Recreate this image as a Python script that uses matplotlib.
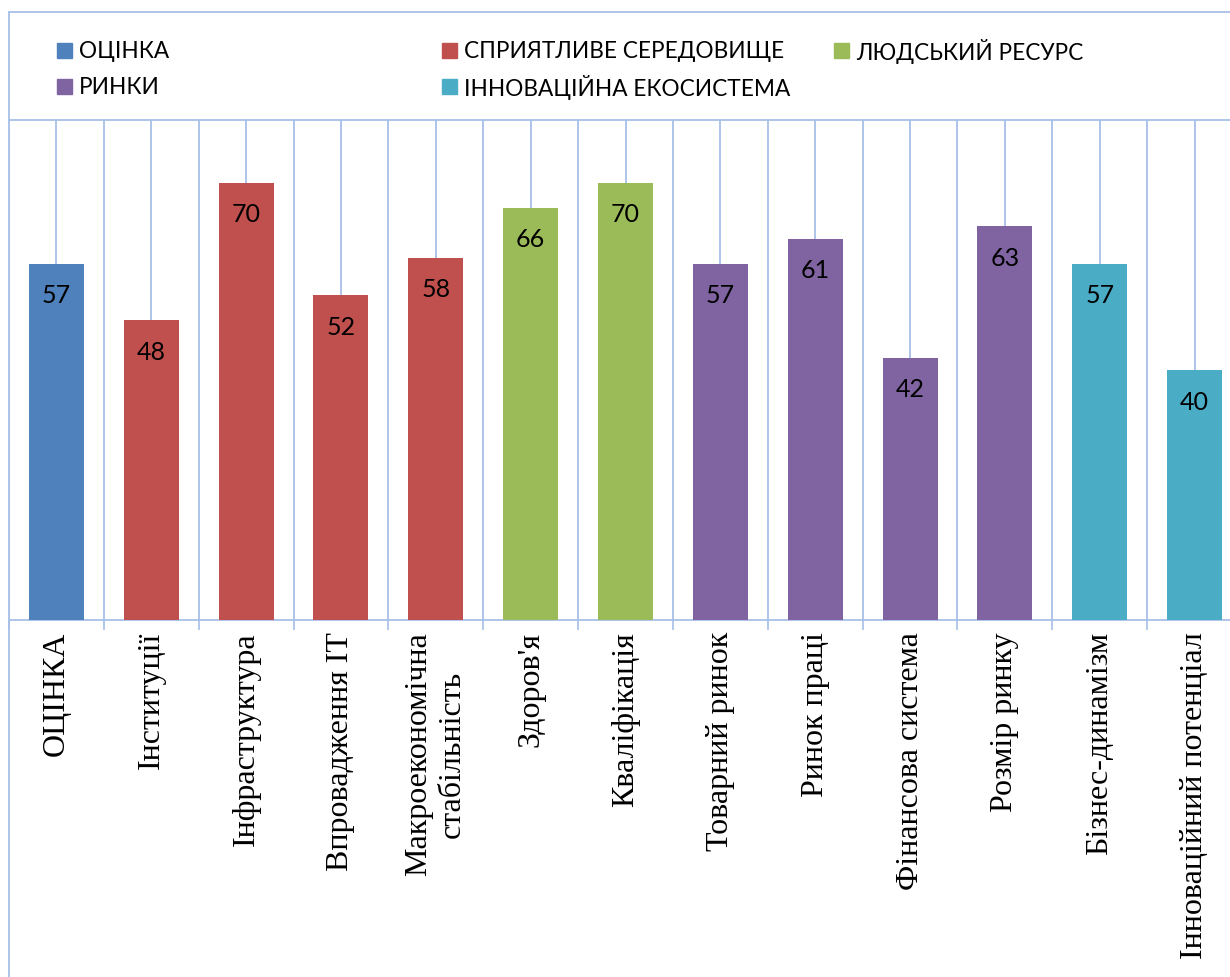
import matplotlib
matplotlib.use("Agg")
import matplotlib.pyplot as plt
from matplotlib.lines import Line2D
from matplotlib.patches import Rectangle
from matplotlib.ticker import FixedLocator

categories = ["ОЦІНКА", "Інституції", "Інфраструктура", "Впровадження ІТ",
              "Макроекономічна\nстабільність", "Здоров'я", "Кваліфікація",
              "Товарний ринок", "Ринок праці", "Фінансова система",
              "Розмір ринку", "Бізнес-динамізм", "Інноваційний потенціал"]
values = [57, 48, 70, 52, 58, 66, 70, 57, 61, 42, 63, 57, 40]
groups = [0, 1, 1, 1, 1, 2, 2, 3, 3, 3, 3, 4, 4]
group_names = ["ОЦІНКА", "СПРИЯТЛИВЕ СЕРЕДОВИЩЕ", "ЛЮДСЬКИЙ РЕСУРС",
               "РИНКИ", "ІННОВАЦІЙНА ЕКОСИСТЕМА"]
group_colors = ["#4F81BD", "#C0504D", "#9BBB59", "#8064A2", "#4BACC6"]

GRID = "#A7C0E8"
W, H = 1230, 978
fig = plt.figure(figsize=(W / 100, H / 100), dpi=100)

# axes placed in pixel coordinates
x0, x1, ytop, ybot = 9, 1242, 121, 621
ax = fig.add_axes([x0 / W, 1 - ybot / H, (x1 - x0) / W, (ybot - ytop) / H])

n = len(categories)
xs = list(range(n))
cols = [group_colors[g] for g in groups]
bars = ax.bar(xs, values, width=0.58, color=cols, zorder=3)

ax.set_xlim(-0.5, n - 0.5)
ax.set_ylim(0, 80)
ax.set_yticks([])

# major ticks at category boundaries, minor at centers (labels)
ax.xaxis.set_major_locator(FixedLocator([i - 0.5 for i in range(n + 1)]))
ax.xaxis.set_minor_locator(FixedLocator(xs))
ax.xaxis.set_major_formatter(plt.NullFormatter())
ax.set_xticks(xs, minor=True)
ax.set_xticklabels(categories, minor=True, rotation=90, va="top", ha="center",
                   fontsize=23, family="Liberation Serif", multialignment="center")
ax.tick_params(axis="x", which="major", length=7.5, width=1.2, color=GRID, direction="out")
ax.tick_params(axis="x", which="minor", length=0, pad=8)
ax.grid(True, axis="x", which="both", color=GRID, linewidth=1.3, zorder=0)
ax.set_axisbelow(True)

for s in ["top", "bottom", "left", "right"]:
    ax.spines[s].set_color(GRID)
    ax.spines[s].set_linewidth(1.3)
ax.spines["left"].set_visible(False)

for b, v in zip(bars, values):
    ax.annotate(str(v), (b.get_x() + b.get_width() / 2, v), xytext=(0, -22.5),
                textcoords="offset points", ha="center", va="center",
                fontsize=18, family="Lato", color="#000000", zorder=4)

# outer frame
fig.add_artist(Line2D([x0 / W, 1], [1 - 13 / H, 1 - 13 / H], color=GRID, lw=1.3,
                      transform=fig.transFigure))
fig.add_artist(Line2D([x0 / W, x0 / W], [0, 1 - 13 / H], color=GRID, lw=1.3,
                      transform=fig.transFigure))

# legend (Excel-like equal columns)
col_x = [57, 442, 834]
row_y = [51, 87]
for i, (name, c) in enumerate(zip(group_names, group_colors)):
    r, cc = divmod(i, 3)
    mx, my = col_x[cc], row_y[r]
    fig.add_artist(Rectangle(((mx) / W, 1 - (my + 8) / H), 15 / W, 15 / H,
                             color=c, transform=fig.transFigure))
    fig.text((mx + 22) / W, 1 - my / H, name, ha="left", va="center",
             fontsize=16.3, family="Lato", color="#000000")

fig.savefig("out.png", dpi=100, facecolor="white")
